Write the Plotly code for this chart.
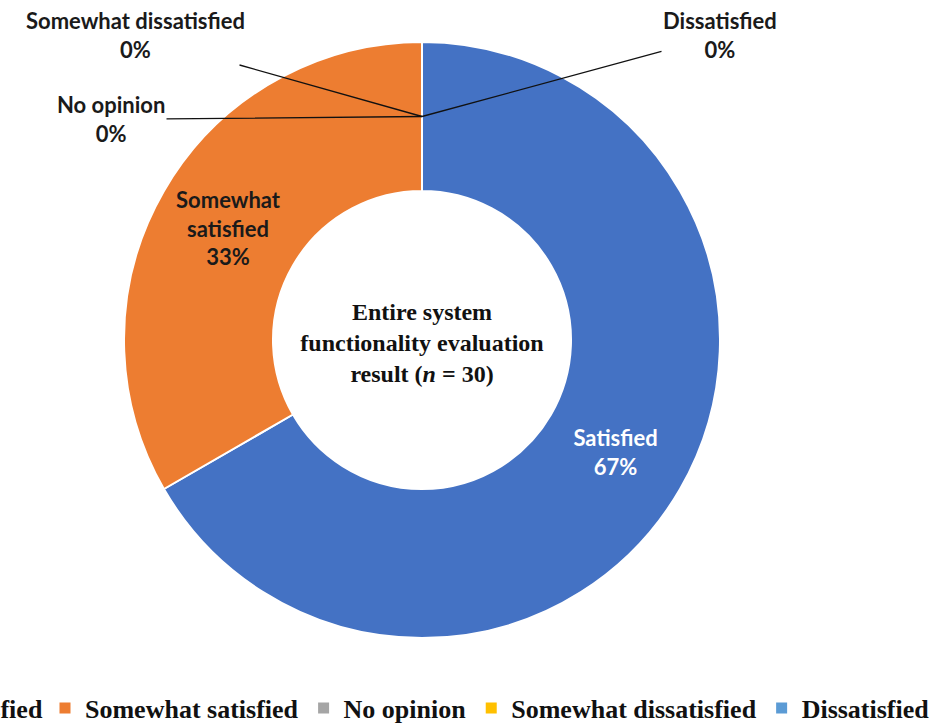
import plotly.graph_objects as go

# ── data ────────────────────────────────────────────────────────────────────
labels = ["Satisfied", "Somewhat satisfied", "No opinion",
          "Somewhat dissatisfied", "Dissatisfied"]
counts = [20, 10, 0, 0, 0]          # n = 30
colors = ["#4472C4", "#ED7D31", "#A5A5A5", "#FFC000", "#5B9BD5"]
slice_text = ["Satisfied", "Somewhat<br>satisfied", "No opinion",
              "Somewhat dissatisfied", "Dissatisfied"]
text_colors = ["#ffffff", "#1a1a1a", "#1a1a1a", "#1a1a1a", "#1a1a1a"]
center_title = "Entire system<br>functionality evaluation<br>result (<i>n</i> = 30)"

# ── geometry (px) ───────────────────────────────────────────────────────────
W, H = 935, 723
CX, CY, R, HOLE = 422, 340, 298, 0.5
SANS = "Lato"
SERIF = "Liberation Serif"

# where the zero-slice callouts sit, as pixel offsets from the ring top
callout_offset = {
    "No opinion": (-311, 3),
    "Somewhat dissatisfied": (-287, -81),
    "Dissatisfied": (298, -81),
}

total = sum(counts)
tmpl = ["%{text}<br>%{percent:.0%}" if v > 0 else "" for v in counts]

fig = go.Figure()
fig.add_trace(go.Pie(
    labels=labels, values=counts, text=slice_text,
    texttemplate=tmpl, textinfo="text",
    sort=False, direction="clockwise", rotation=0,
    hole=HOLE, showlegend=False,
    marker=dict(colors=colors, line=dict(color="#ffffff", width=2)),
    textposition="inside", insidetextorientation="horizontal",
    textfont=dict(family=SANS, size=22, color=text_colors, weight="bold"),
    title=dict(text=center_title, position="middle center",
               font=dict(family=SERIF, size=24, color="#111111", weight="bold")),
    domain=dict(x=[(CX - R) / W, (CX + R) / W],
                y=[1 - (CY + R) / H, 1 - (CY - R) / H]),
    hoverinfo="label+value+percent",
))

# legend proxies: first one sits in its own legend, partly off the page
for i, (lab, col) in enumerate(zip(labels, colors)):
    fig.add_trace(go.Scatter(
        x=[None], y=[None], mode="markers", name=lab,
        marker=dict(symbol="square", size=11, color=col),
        legend="legend" if i == 0 else "legend2", hoverinfo="skip",
    ))

# zero-value callouts with leader lines to the top of the ring
tx, ty = CX / W, 1 - (CY - R * (1 + HOLE) / 2) / H
for lab, v in zip(labels, counts):
    if v > 0:
        continue
    ax, ay = callout_offset[lab]
    fig.add_annotation(
        x=tx, y=ty, xref="paper", yref="paper",
        text=f"{lab}<br>{round(100 * v / total)}%",
        showarrow=True, arrowhead=0, arrowwidth=1.3, arrowcolor="#111111",
        ax=ax, ay=ay,
        font=dict(family=SANS, size=22, color="#1a1a1a", weight="bold"),
    )

leg_font = dict(family=SERIF, size=26, color="#111111", weight="bold")
fig.update_layout(
    width=W, height=H,
    paper_bgcolor="#ffffff", plot_bgcolor="#ffffff",
    margin=dict(l=0, r=0, t=0, b=0, autoexpand=False),
    xaxis=dict(visible=False), yaxis=dict(visible=False),
    legend=dict(orientation="h", x=48 / W, xanchor="right",
                y=1 - 708 / H, yanchor="middle", font=leg_font,
                bgcolor="rgba(0,0,0,0)"),
    legend2=dict(orientation="h", x=45 / W, xanchor="left",
                 y=1 - 708 / H, yanchor="middle", font=leg_font,
                 bgcolor="rgba(0,0,0,0)"),
)

# drop the browser's default body margin so the figure sits at the page origin
fig.write_html("out.html", config={"displayModeBar": False},
               post_script="document.body.style.margin='0';")
